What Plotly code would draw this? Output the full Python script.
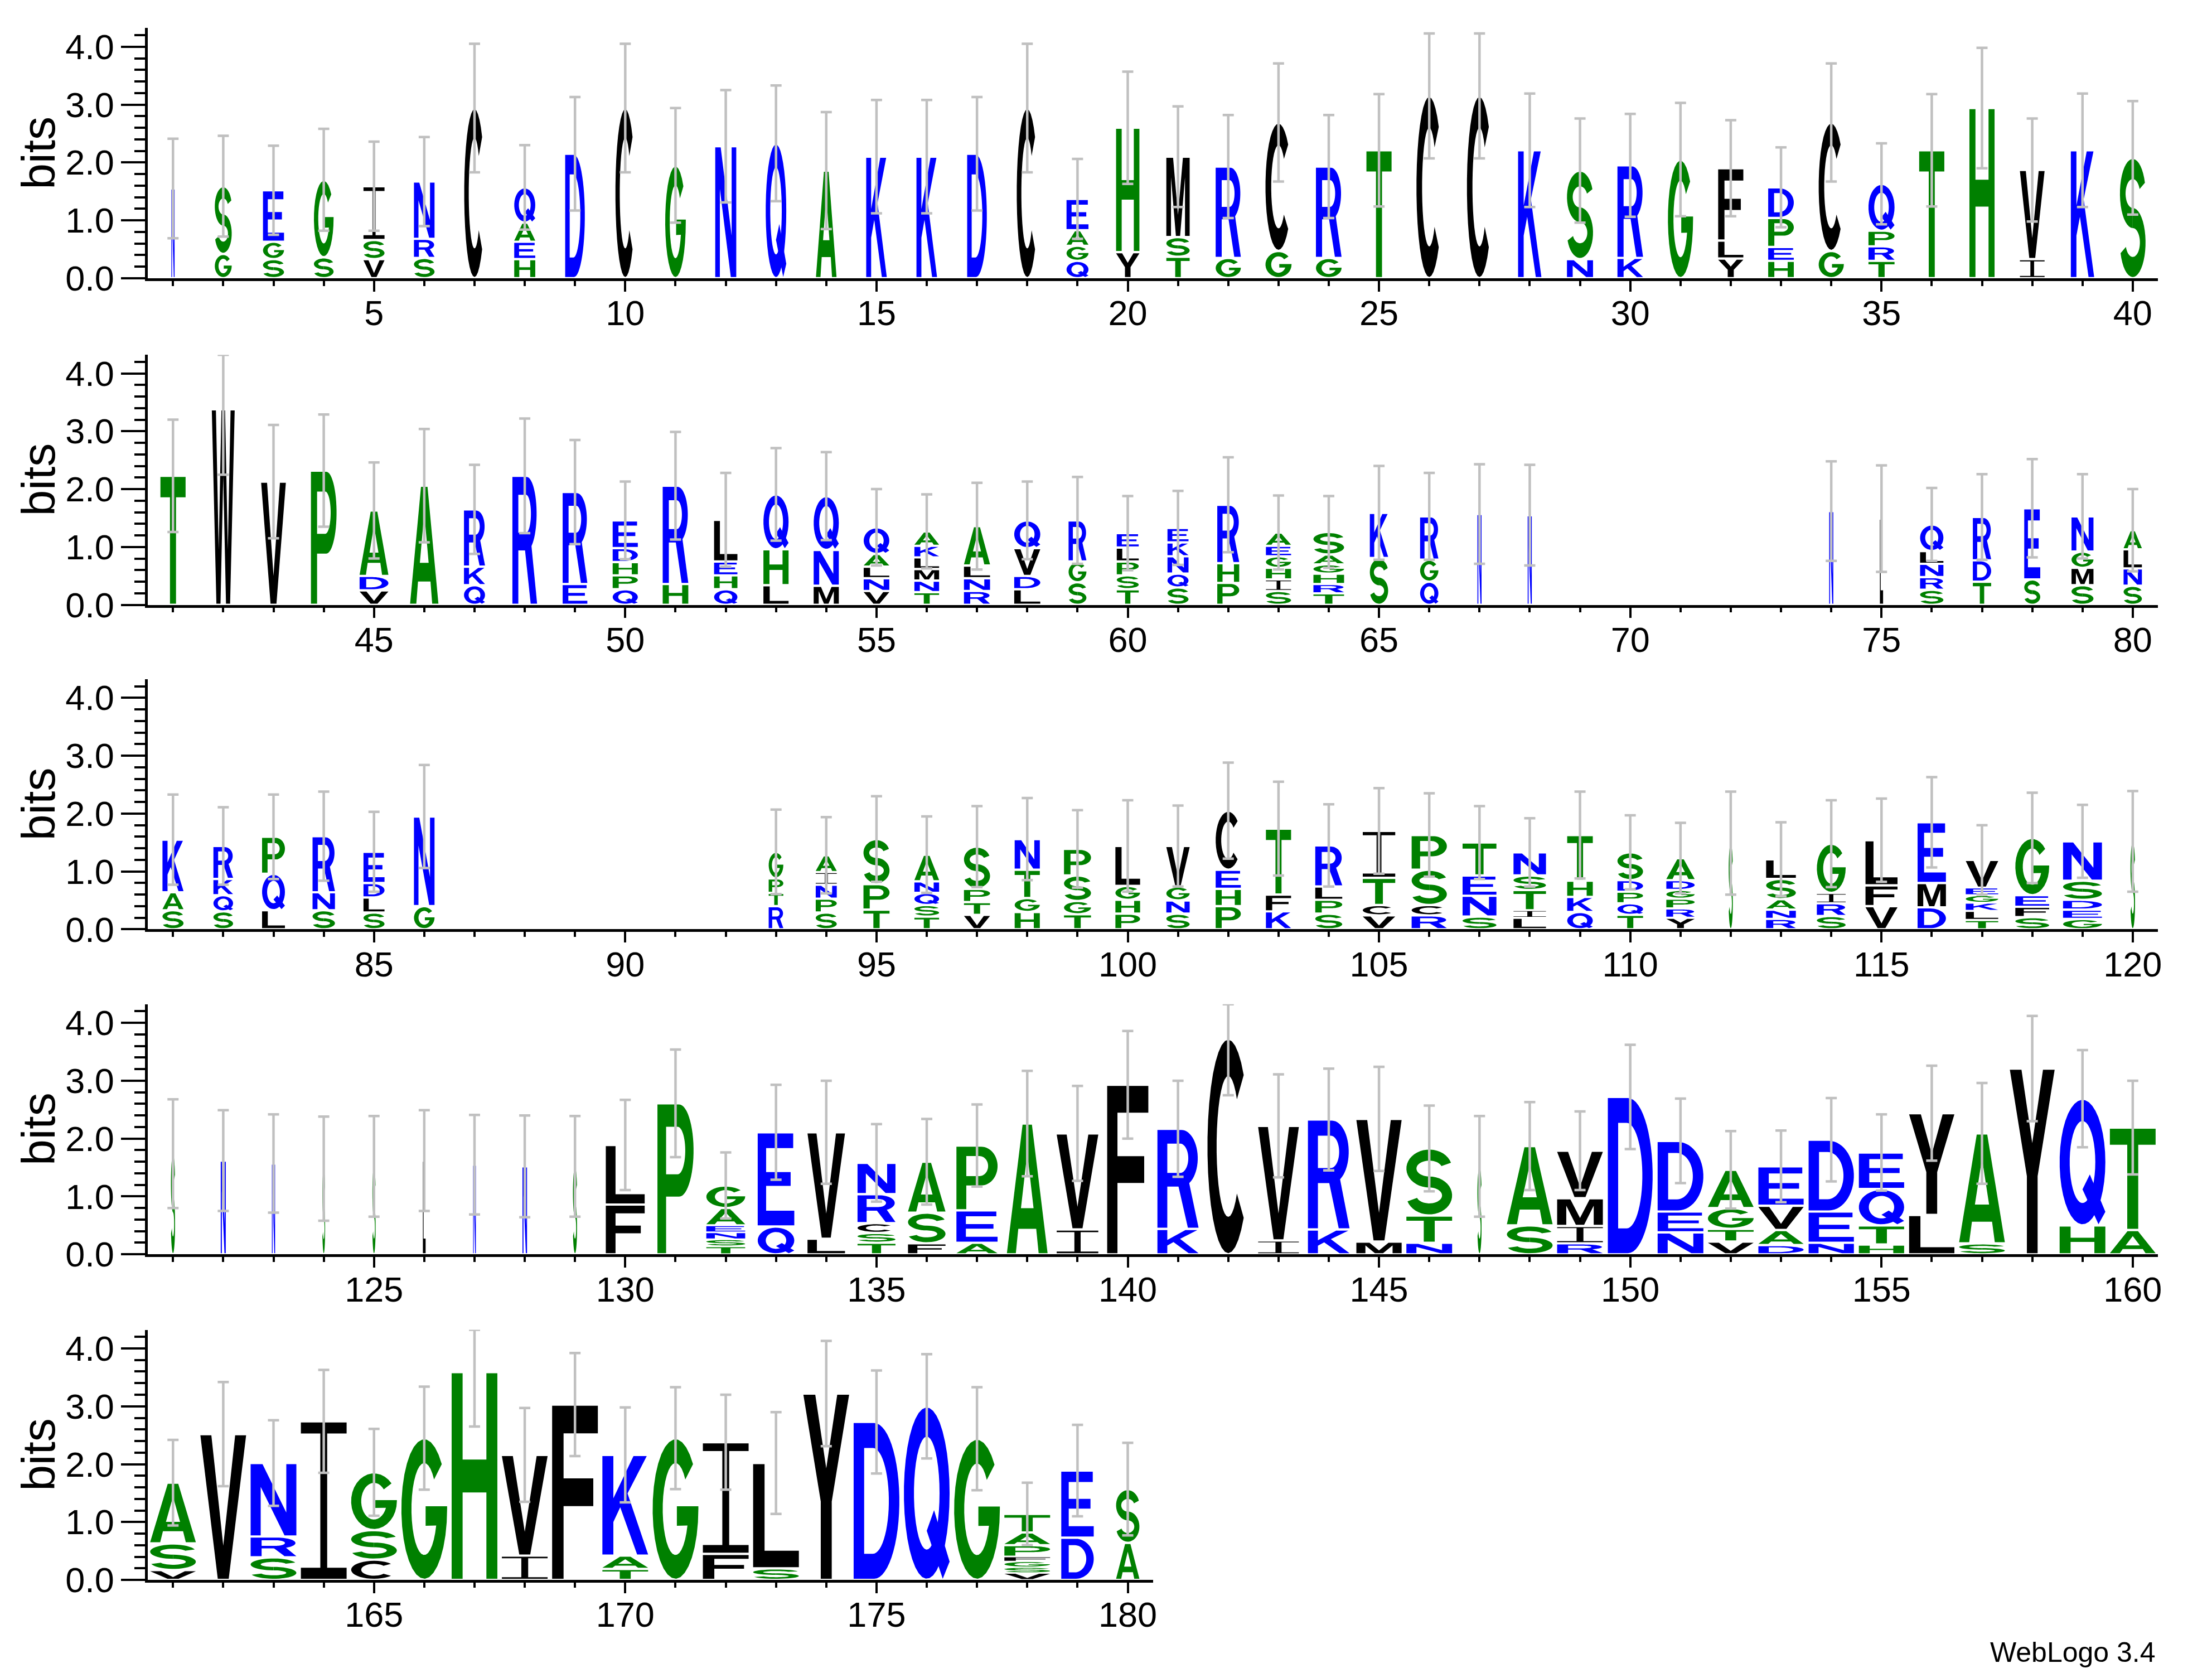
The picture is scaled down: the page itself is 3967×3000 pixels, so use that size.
import numpy as np
import plotly.graph_objects as go

# ------------------------------------------------------------------ data
positions = list(range(1, 181))

# letters of each stack, bottom -> top
stack_letters = [
    "N", "GS", "SGE", "SG", "VSI", "SRN", "C", "HEAQ", "D", "C",
    "G", "N", "Q", "A", "K", "K", "D", "C", "QGAE", "YH",
    "TSM", "GR", "GC", "GR", "T", "C", "C", "K", "NS", "KR",
    "G", "YLF", "HEPD", "GC", "TRPQ", "T", "H", "IV", "K", "S",
    "T", "W", "V", "P", "VDA", "A", "QKR", "R", "ER", "QPHDE",
    "HR", "QHEL", "LHQ", "MNQ", "VNLAQ", "TNMLKA", "RNLA", "LDVQ", "SGR", "TSPLE",
    "SQNKE", "PHR", "SIHGEA", "TRHGAS", "SK", "QGR", "N", "N", "", "",
    "", "", "", "N", "L", "SRNLQ", "TDR", "SE", "SMGN", "SNLA",
    "SAK", "SQKR", "LQP", "SNR", "SLDE", "GN", "", "", "", "",
    "", "", "RTPG", "SPNIA", "TPS", "TSQNA", "VTPS", "HGTN", "TGSP", "PHGL",
    "SNGV", "PHEC", "KFT", "SPLR", "VCTI", "RCSP", "SNET", "LITSN", "QKHT", "TQPDS",
    "YRPGDA", "S", "RNASL", "SRIG", "VFL", "DME", "TLKGEV", "SFEG", "GEDSN", "S",
    "S", "N", "N", "S", "S", "L", "N", "N", "S", "FL",
    "P", "TSNEAG", "QE", "LV", "TSCRN", "FSA", "AEP", "A", "IV", "F",
    "KR", "C", "IV", "KR", "MV", "NTS", "S", "SA", "RIMV", "D",
    "NED", "VTGA", "DAVE", "NED", "HTQE", "LY", "SA", "Y", "HQ", "AT",
    "VSA", "V", "SRN", "I", "CSG", "G", "H", "IV", "F", "TAK",
    "G", "FI", "SL", "Y", "D", "Q", "G", "VSGFPAT", "DE", "AS",
]

# heights in bits of each letter, bottom -> top
stack_heights = [
    [1.55], [0.42, 1.17], [0.33, 0.30, 0.89], [0.36, 1.34], [0.33, 0.33, 0.93], [0.35, 0.33, 0.99], [2.94], [0.33, 0.30, 0.33, 0.61], [2.15], [2.94],
    [1.95], [2.28], [2.33], [1.86], [2.10], [2.10], [2.15], [2.94], [0.30, 0.26, 0.27, 0.54], [0.45, 2.15],
    [0.37, 0.34, 1.39], [0.35, 1.58], [0.47, 2.22], [0.35, 1.58], [2.21], [3.15], [3.15], [2.21], [0.33, 1.53], [0.35, 1.60],
    [2.05], [0.34, 0.31, 1.25], [0.30, 0.24, 0.50, 0.53], [0.47, 2.22], [0.30, 0.25, 0.27, 0.81], [2.21], [2.94], [0.33, 1.54], [2.21], [2.08],
    [2.23], [3.38], [2.13], [2.32], [0.25, 0.25, 1.13], [2.06], [0.34, 0.32, 0.99], [2.23], [0.36, 1.59], [0.27, 0.24, 0.23, 0.24, 0.48],
    [0.36, 1.70], [0.27, 0.24, 0.24, 0.72], [0.34, 0.62, 0.95], [0.33, 0.62, 0.93], [0.24, 0.22, 0.20, 0.22, 0.46], [0.22, 0.20, 0.20, 0.20, 0.20, 0.25], [0.24, 0.22, 0.22, 0.68], [0.27, 0.23, 0.48, 0.48], [0.39, 0.36, 0.71], [0.27, 0.24, 0.24, 0.24, 0.25],
    [0.30, 0.24, 0.30, 0.24, 0.25], [0.38, 0.34, 1.01], [0.24, 0.20, 0.20, 0.20, 0.18, 0.23], [0.20, 0.16, 0.18, 0.16, 0.17, 0.39], [0.81, 0.78], [0.40, 0.38, 0.75], [1.57], [1.55], [], [],
    [], [], [], [1.62], [1.49], [0.26, 0.22, 0.23, 0.22, 0.46], [0.40, 0.37, 0.75], [0.44, 1.23], [0.34, 0.30, 0.28, 0.61], [0.33, 0.30, 0.33, 0.33],
    [0.33, 0.31, 0.91], [0.31, 0.28, 0.28, 0.57], [0.33, 0.63, 0.64], [0.33, 0.31, 0.97], [0.29, 0.26, 0.25, 0.54], [0.40, 1.55], [], [], [], [],
    [], [], [0.40, 0.23, 0.25, 0.46], [0.29, 0.24, 0.24, 0.22, 0.29], [0.34, 0.44, 0.78], [0.22, 0.20, 0.21, 0.20, 0.46], [0.25, 0.22, 0.23, 0.73], [0.30, 0.24, 0.49, 0.53], [0.26, 0.23, 0.44, 0.46], [0.27, 0.24, 0.24, 0.69],
    [0.27, 0.23, 0.24, 0.70], [0.40, 0.30, 0.33, 1.02], [0.31, 0.29, 1.14], [0.27, 0.24, 0.23, 0.71], [0.24, 0.18, 0.47, 0.81], [0.24, 0.18, 0.61, 0.60], [0.22, 0.36, 0.35, 0.57], [0.20, 0.13, 0.35, 0.25, 0.40], [0.30, 0.26, 0.28, 0.79], [0.25, 0.20, 0.20, 0.20, 0.48],
    [0.20, 0.16, 0.17, 0.15, 0.17, 0.38], [1.49], [0.18, 0.16, 0.18, 0.35, 0.34], [0.23, 0.22, 0.18, 0.85], [0.40, 0.36, 0.78], [0.38, 0.42, 1.05], [0.16, 0.16, 0.14, 0.13, 0.13, 0.48], [0.21, 0.18, 0.20, 0.99], [0.18, 0.16, 0.17, 0.33, 0.68], [1.52],
    [1.74], [1.62], [1.57], [1.48], [1.52], [1.62], [1.55], [1.52], [1.52], [0.86, 1.03],
    [2.61], [0.14, 0.12, 0.12, 0.12, 0.30, 0.39], [0.48, 1.63], [0.27, 1.84], [0.20, 0.17, 0.17, 0.50, 0.54], [0.19, 0.53, 0.88], [0.20, 0.56, 1.12], [2.26], [0.43, 1.66], [2.93],
    [0.44, 1.73], [3.73], [0.24, 1.98], [0.43, 1.90], [0.22, 2.12], [0.20, 0.47, 1.16], [1.52], [0.50, 1.37], [0.19, 0.30, 0.48, 0.82], [2.72],
    [0.38, 0.36, 1.22], [0.22, 0.22, 0.36, 0.66], [0.16, 0.26, 0.42, 0.68], [0.20, 0.54, 1.24], [0.17, 0.33, 0.63, 0.63], [0.68, 1.76], [0.19, 1.90], [3.21], [0.50, 2.19], [0.42, 1.77],
    [0.17, 0.46, 1.05], [2.52], [0.39, 0.36, 1.27], [2.74], [0.35, 0.51, 1.00], [2.45], [3.59], [0.42, 1.74], [3.03], [0.19, 0.23, 1.74],
    [2.45], [0.45, 1.93], [0.20, 1.82], [3.22], [2.73], [3.00], [2.44], [0.12, 0.10, 0.10, 0.08, 0.20, 0.22, 0.32], [0.73, 1.16], [0.64, 0.93],
]

# fraction of non-gap symbols (sets the stack width)
coverage = [
    0.07, 0.37, 0.46, 0.43, 0.46, 0.45, 0.45, 0.46, 0.43, 0.43,
    0.45, 0.46, 0.45, 0.45, 0.45, 0.45, 0.43, 0.46, 0.48, 0.51,
    0.51, 0.55, 0.57, 0.56, 0.55, 0.56, 0.55, 0.51, 0.57, 0.56,
    0.55, 0.55, 0.56, 0.55, 0.57, 0.55, 0.55, 0.54, 0.51, 0.56,
    0.55, 0.50, 0.54, 0.56, 0.63, 0.62, 0.46, 0.54, 0.54, 0.55,
    0.56, 0.51, 0.55, 0.55, 0.56, 0.54, 0.57, 0.57, 0.39, 0.48,
    0.46, 0.48, 0.55, 0.67, 0.40, 0.40, 0.09, 0.09, 0, 0,
    0, 0, 0, 0.09, 0.07, 0.51, 0.40, 0.35, 0.48, 0.40,
    0.46, 0.43, 0.50, 0.49, 0.46, 0.45, 0, 0, 0, 0,
    0, 0, 0.32, 0.46, 0.57, 0.54, 0.57, 0.55, 0.59, 0.54,
    0.51, 0.55, 0.55, 0.59, 0.71, 0.77, 0.74, 0.71, 0.56, 0.56,
    0.62, 0.09, 0.65, 0.63, 0.70, 0.62, 0.71, 0.74, 0.85, 0.10,
    0.09, 0.11, 0.07, 0.06, 0.07, 0.06, 0.06, 0.10, 0.09, 0.85,
    0.79, 0.85, 0.80, 0.82, 0.83, 0.82, 0.90, 0.89, 0.91, 0.90,
    0.90, 0.91, 0.89, 0.91, 0.99, 1.0, 0.09, 1.0, 1.0, 0.98,
    1.0, 1.0, 0.99, 0.99, 0.99, 0.99, 1.0, 0.98, 1.0, 1.0,
    1.0, 1.0, 1.0, 1.0, 1.0, 1.0, 1.0, 1.0, 1.0, 1.0,
    1.0, 1.0, 1.0, 1.0, 1.0, 1.0, 1.0, 1.0, 0.71, 0.51,
]

# error (bits) of each stack
error_bits = [
    0.86, 0.87, 0.77, 0.88, 0.77, 0.77, 1.11, 0.73, 0.98, 1.11,
    0.99, 0.97, 1.00, 1.01, 0.98, 0.98, 0.98, 1.11, 0.69, 0.97,
    0.87, 0.89, 1.02, 0.89, 0.97, 1.08, 1.08, 0.98, 0.90, 0.89,
    0.98, 0.83, 0.69, 1.02, 0.70, 0.97, 1.04, 0.89, 0.98, 0.98,
    0.97, 1.13, 0.98, 0.97, 0.83, 0.98, 0.77, 0.99, 0.90, 0.67,
    0.93, 0.81, 0.80, 0.76, 0.66, 0.64, 0.75, 0.67, 0.75, 0.64,
    0.64, 0.82, 0.64, 0.62, 0.81, 0.75, 0.86, 0.87, 0, 0,
    0, 0, 0, 0.86, 0.92, 0.63, 0.74, 0.85, 0.73, 0.71,
    0.78, 0.67, 0.73, 0.77, 0.69, 0.89, 0, 0, 0, 0,
    0, 0, 0.73, 0.66, 0.74, 0.66, 0.70, 0.71, 0.67, 0.79,
    0.70, 0.83, 0.81, 0.71, 0.74, 0.72, 0.63, 0.59, 0.75, 0.64,
    0.61, 0.89, 0.64, 0.75, 0.72, 0.78, 0.60, 0.78, 0.63, 0.87,
    0.94, 0.87, 0.85, 0.90, 0.87, 0.87, 0.86, 0.88, 0.87, 0.78,
    0.93, 0.57, 0.82, 0.89, 0.67, 0.74, 0.71, 0.91, 0.82, 0.93,
    0.83, 0.98, 0.89, 0.88, 0.90, 0.74, 0.87, 0.76, 0.68, 0.90,
    0.73, 0.67, 0.62, 0.72, 0.66, 0.82, 0.87, 0.91, 0.84, 0.81,
    0.74, 0.90, 0.74, 0.89, 0.75, 0.89, 0.94, 0.81, 0.89, 0.82,
    0.88, 0.82, 0.88, 0.91, 0.89, 0.90, 0.89, 0.54, 0.79, 0.80,
]

row_ranges = [(1, 40), (41, 80), (81, 120), (121, 160), (161, 180)]

# ------------------------------------------------------------------ style
SY = 3035 / 3000.0
SX = 3977 / 3967.0
FIG_W, FIG_H = 3977, 3035
MAXBITS = float(np.log2(20))
BASE_PX = [v * SY for v in (498, 1084, 1666, 2249, 2833)]
PX_PER_BIT = 103.8 * SY
X0_PX, STEP_PX = 265 * SX, 90.05 * SX
FULL_W = 0.91
FONT = "Liberation Sans, Arial, Helvetica, sans-serif"

COLORS = {}
for c in "AGHPST":
    COLORS[c] = "#008000"
for c in "DEKNQR":
    COLORS[c] = "#0000ff"
for c in "CFILMVWY":
    COLORS[c] = "#000000"


def arc(cx, cy, rx, ry, a0, a1, n=30):
    t = np.radians(np.linspace(a0, a1, n))
    return list(zip(cx + rx * np.cos(t), cy + ry * np.sin(t)))


# glyph outlines in a unit box; each glyph = list of paths, each path = list of contours (even-odd)
GLYPHS = {
    'A': [[[(0, 0), (0.22, 0), (0.28, 0.19), (0.72, 0.19), (0.78, 0), (1, 0), (0.615, 1), (0.385, 1)],
           [(0.345, 0.35), (0.655, 0.35), (0.5, 0.78)]]],
    'C': [[arc(.5, .5, .5, .5, 42, 318) + arc(.5, .5, .28, .33, 318, 42)]],
    'D': [[[(0, 0), (0, 1), (0.45, 1)] + arc(0.45, 0.5, 0.55, 0.5, 90, -90) + [(0.45, 0)],
           [(0.23, 0.16), (0.23, 0.84), (0.42, 0.84)] + arc(0.42, 0.5, 0.35, 0.34, 90, -90) + [(0.42, 0.16)]]],
    'E': [[[(0, 0), (1, 0), (1, 0.16), (0.23, 0.16), (0.23, 0.43), (0.9, 0.43), (0.9, 0.58), (0.23, 0.58),
            (0.23, 0.84), (0.97, 0.84), (0.97, 1), (0, 1)]]],
    'F': [[[(0, 0), (0.25, 0), (0.25, 0.42), (0.9, 0.42), (0.9, 0.58), (0.25, 0.58), (0.25, 0.84), (1, 0.84),
            (1, 1), (0, 1)]]],
    'G': [[arc(.5, .5, .5, .5, 40, 360) + [(1, 0.52), (0.53, 0.52), (0.53, 0.38)] + arc(.5, .5, .28, .33, -21, -320)]],
    'H': [[[(0, 0), (0.24, 0), (0.24, 0.42), (0.76, 0.42), (0.76, 0), (1, 0), (1, 1), (0.76, 1), (0.76, 0.58),
            (0.24, 0.58), (0.24, 1), (0, 1)]]],
    'I': [[[(0, 0), (1, 0), (1, 0.07), (0.575, 0.07), (0.575, 0.93), (1, 0.93), (1, 1), (0, 1), (0, 0.93),
            (0.425, 0.93), (0.425, 0.07), (0, 0.07)]]],
    'K': [[[(0, 0), (0.24, 0), (0.24, 0.33), (0.39, 0.48), (0.76, 0), (1.0, 0), (0.55, 0.62), (0.97, 1),
            (0.68, 1), (0.24, 0.57), (0.24, 1), (0, 1)]]],
    'L': [[[(0, 0), (1, 0), (1, 0.16), (0.25, 0.16), (0.25, 1), (0, 1)]]],
    'M': [[[(0, 0), (0.2, 0), (0.2, 0.75), (0.41, 0), (0.59, 0), (0.8, 0.75), (0.8, 0), (1, 0), (1, 1), (0.71, 1),
            (0.5, 0.27), (0.29, 1), (0, 1)]]],
    'N': [[[(0, 0), (0.22, 0), (0.22, 0.68), (0.74, 0), (1, 0), (1, 1), (0.78, 1), (0.78, 0.32), (0.26, 1), (0, 1)]]],
    'P': [[[(0, 0), (0.24, 0), (0.24, 0.38), (0.6, 0.38)] + arc(0.6, 0.69, 0.4, 0.31, -90, 90) + [(0, 1)],
           [(0.24, 0.53), (0.56, 0.53)] + arc(0.56, 0.69, 0.21, 0.16, -90, 90) + [(0.24, 0.85)]]],
    'Q': [[arc(.5, .5, .5, .5, 0, 360, 40), arc(.5, .5, .28, .33, 0, 360, 40)],
          [[(0.5, 0.28), (0.66, 0.40), (1.0, 0.1), (0.85, 0.0)]]],
    'R': [[[(0, 0), (0.24, 0), (0.24, 0.42), (0.58, 0.42)] + arc(0.58, 0.71, 0.4, 0.29, -90, 90) + [(0, 1)],
           [(0.24, 0.56), (0.55, 0.56)] + arc(0.55, 0.71, 0.2, 0.15, -90, 90) + [(0.24, 0.86)]],
          [[(0.48, 0.48), (0.76, 0.48), (1.0, 0), (0.74, 0)]]],
    'S': [[arc(0.5, 0.7075, 0.5, 0.2925, 18, 270) + arc(0.5, 0.7075, 0.28, 0.1225, 270, 18)],
          [arc(0.5, 0.2925, 0.5, 0.2925, 90, -162) + arc(0.5, 0.2925, 0.28, 0.1225, -162, 90)]],
    'T': [[[(0.38, 0), (0.62, 0), (0.62, 0.84), (1, 0.84), (1, 1), (0, 1), (0, 0.84), (0.38, 0.84)]]],
    'V': [[[(0, 1), (0.24, 1), (0.5, 0.23), (0.76, 1), (1, 1), (0.62, 0), (0.38, 0)]]],
    'W': [[[(0, 1), (0.18, 1), (0.3, 0.28), (0.42, 1), (0.58, 1), (0.7, 0.28), (0.82, 1), (1, 1), (0.8, 0),
            (0.62, 0), (0.5, 0.66), (0.38, 0), (0.2, 0)]]],
    'Y': [[[(0, 1), (0.26, 1), (0.5, 0.6), (0.74, 1), (1, 1), (0.62, 0.42), (0.62, 0), (0.38, 0), (0.38, 0.42)]]],
}

# ------------------------------------------------------------------ build
fig = go.Figure()
shapes = []
axes = {}

for r, (a, b) in enumerate(row_ranges):
    n = '' if r == 0 else str(r + 1)
    xr, yr = 'x' + n, 'y' + n

    # letters
    for p in range(a, b + 1):
        i = positions.index(p)
        w = coverage[i] * FULL_W
        ybot = 0.0
        for ch, h in zip(stack_letters[i], stack_heights[i]):
            pad = min(0.02, 0.12 * h)
            gy0, gh = ybot + pad, h - 2 * pad
            for contours in GLYPHS[ch]:
                d = ""
                for cont in contours:
                    pts = [(p - w / 2 + gx * w, gy0 + gy * gh) for gx, gy in cont]
                    d += "M" + "L".join(f"{x:.4f},{y:.4f}" for x, y in pts) + "Z"
                shapes.append(dict(type='path', path=d, xref=xr, yref=yr, fillcolor=COLORS[ch],
                                   line=dict(width=0), layer='below', fillrule='evenodd'))
            ybot += h

    # error bars
    xs, ys, up, dn = [], [], [], []
    for p in range(a, b + 1):
        i = positions.index(p)
        if stack_heights[i]:
            t = sum(stack_heights[i])
            xs.append(p)
            ys.append(t)
            up.append(max(0.0, min(error_bits[i], MAXBITS - t)))
            dn.append(error_bits[i])
    fig.add_trace(go.Scatter(
        x=xs, y=ys, mode='markers', marker=dict(size=1, color='rgba(0,0,0,0)'),
        error_y=dict(type='data', symmetric=False, array=up, arrayminus=dn,
                     color='#c0c0c0', thickness=4.5, width=10),
        xaxis=xr, yaxis=yr, cliponaxis=False, hoverinfo='skip', showlegend=False))

    npos = b - a + 1
    xd = [X0_PX / FIG_W, (X0_PX + npos * STEP_PX) / FIG_W]
    yb = 1 - BASE_PX[r] / FIG_H
    yt = 1 - (BASE_PX[r] - MAXBITS * PX_PER_BIT) / FIG_H
    axes['xaxis' + n] = dict(
        domain=xd, range=[a - 0.5, b + 0.5], anchor=yr, showgrid=False, zeroline=False,
        showline=True, linecolor='black', linewidth=4.5, mirror=False,
        ticks='outside', tickmode='linear', tick0=0, dtick=5, ticklen=19, tickwidth=4, tickcolor='black',
        minor=dict(ticks='outside', tick0=0, dtick=1, ticklen=9, tickwidth=4, tickcolor='black', showgrid=False),
        tickfont=dict(family=FONT, size=63, color='black'), ticklabelstandoff=-15)
    axes['yaxis' + n] = dict(
        domain=[yb, yt], range=[0, MAXBITS], anchor=xr, showgrid=False, zeroline=False,
        showline=True, linecolor='black', linewidth=4.5,
        ticks='outside', tickmode='linear', tick0=0, dtick=1, ticklen=43, tickwidth=4, tickcolor='black',
        tickformat='.1f',
        minor=dict(ticks='outside', tick0=0, dtick=0.2, ticklen=19, tickwidth=4, tickcolor='black', showgrid=False),
        tickfont=dict(family=FONT, size=63, color='black'))

annotations = []
for r in range(len(row_ranges)):
    ymid = BASE_PX[r] - MAXBITS * PX_PER_BIT / 2
    annotations.append(dict(text='bits', x=69 * SX / FIG_W, y=1 - ymid / FIG_H, xref='paper', yref='paper',
                            xanchor='center', yanchor='middle', textangle=-90, showarrow=False,
                            font=dict(family=FONT, size=84, color='black')))
annotations.append(dict(text='WebLogo 3.4', x=3865 * SX / FIG_W, y=1 - 2963 * SY / FIG_H, xref='paper', yref='paper',
                        xanchor='right', yanchor='middle', showarrow=False,
                        font=dict(family=FONT, size=50, color='black')))

fig.update_layout(
    width=FIG_W, height=FIG_H, margin=dict(l=0, r=0, t=0, b=0),
    paper_bgcolor='white', plot_bgcolor='white', showlegend=False,
    shapes=shapes, annotations=annotations, **axes)

page_css = ("document.documentElement.style.margin='0';document.documentElement.style.overflow='hidden';"
            "document.body.style.margin='0';document.body.style.overflow='hidden';")
fig.write_html("out.html", config={'displayModeBar': False, 'responsive': False}, post_script=page_css)
